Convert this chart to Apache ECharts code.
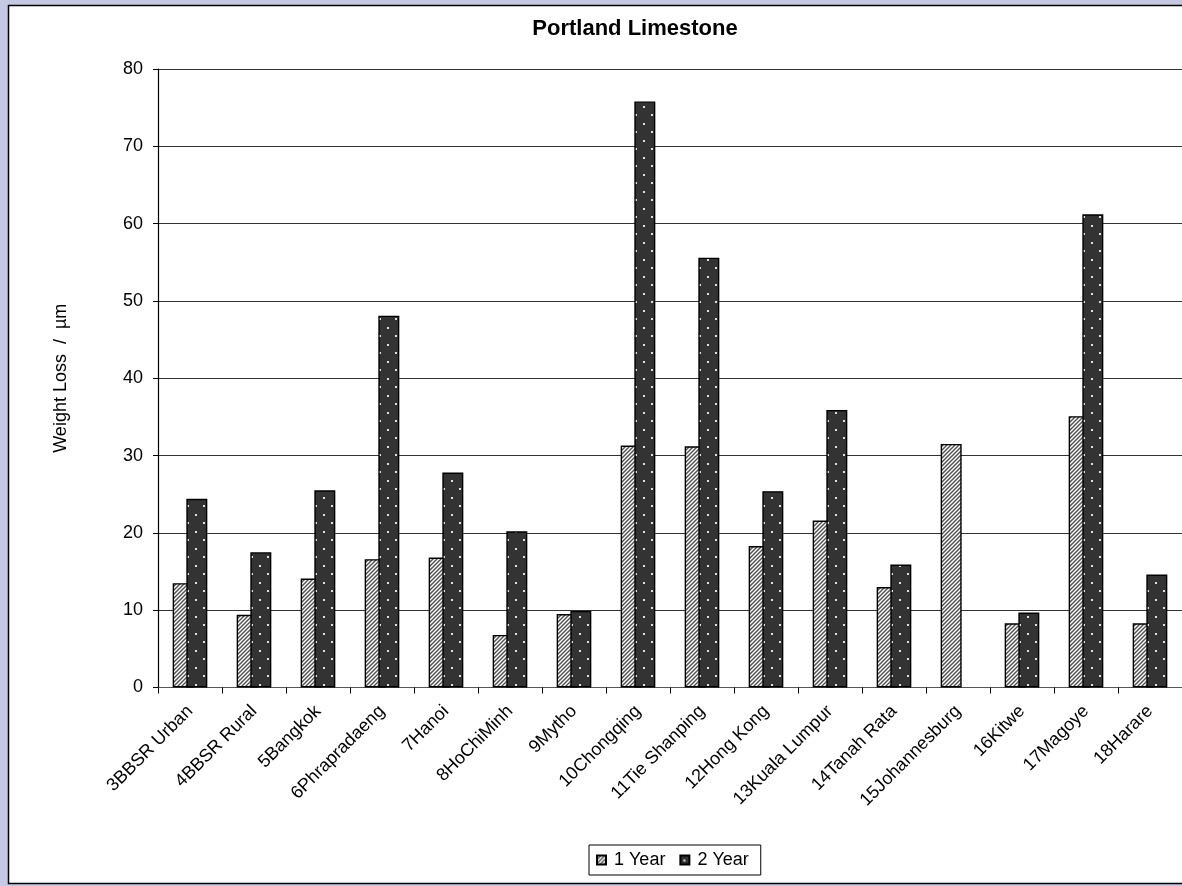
<!DOCTYPE html>
<html>
<head>
<meta charset="utf-8">
<title>Portland Limestone</title>
<script src="https://cdn.jsdelivr.net/npm/echarts@6/dist/echarts.min.js"></script>
<style>
  html, body { margin: 0; padding: 0; background: #c6c9e4; }
  #chart { width: 1182px; height: 886px; }
</style>
</head>
<body>
<div id="chart"></div>
<script>
// Exposure sites
const sites = [
  '3BBSR Urban', '4BBSR Rural', '5Bangkok', '6Phrapradaeng', '7Hanoi',
  '8HoChiMinh', '9Mytho', '10Chongqing', '11Tie Shanping', '12Hong Kong',
  '13Kuala Lumpur', '14Tanah Rata', '15Johannesburg', '16Kitwe', '17Magoye', '18Harare'
];
// Weight loss (µm) after one and two years of exposure
const oneYear = [13.5, 9.4, 14.1, 16.6, 16.8, 6.8, 9.5, 31.3, 31.2, 18.3, 21.6, 13.0, 31.5, 8.3, 35.1, 8.3];
const twoYear = [24.4, 17.5, 25.5, 48.1, 27.8, 20.2, 9.9, 75.8, 55.6, 25.4, 35.9, 15.9, null, 9.7, 61.2, 14.6];
const yTicks = [0, 10, 20, 30, 40, 50, 60, 70, 80];

const FONT = '"Liberation Sans", Arial, sans-serif';

// Diagonal hatch fill for the one-year bars
function hatchPattern() {
  const c = document.createElement('canvas');
  c.width = 4; c.height = 4;
  const g = c.getContext('2d');
  g.fillStyle = '#ffffff';
  g.fillRect(0, 0, 4, 4);
  g.strokeStyle = '#555555';
  g.lineWidth = 1.5;
  g.beginPath();
  g.moveTo(-1, 5); g.lineTo(5, -1);
  g.moveTo(-1, 1); g.lineTo(1, -1);
  g.moveTo(3, 5); g.lineTo(5, 3);
  g.stroke();
  return c;
}

// Dark fill with staggered light dots for the two-year bars
function dotPattern() {
  const c = document.createElement('canvas');
  c.width = 16; c.height = 17;
  const g = c.getContext('2d');
  g.fillStyle = '#333333';
  g.fillRect(0, 0, 16, 17);
  g.fillStyle = '#e0e0e0';
  g.fillRect(3, 4, 2, 2);
  g.fillRect(11, 12, 2, 2);
  return c;
}

const chart = echarts.init(document.getElementById('chart'), null, { renderer: 'canvas' });

const option = {
  backgroundColor: '#c6c9e4',
  animation: false,
  textStyle: { fontFamily: FONT },
  graphic: [{
    type: 'rect',
    z: -10,
    silent: true,
    shape: { x: 8.5, y: 5.5, width: 1200, height: 878 },
    style: { fill: '#ffffff', stroke: '#000000', lineWidth: 1.5 }
  }],
  title: {
    text: 'Portland Limestone',
    left: 630,
    top: 13,
    textAlign: 'center',
    textStyle: { fontFamily: FONT, fontSize: 22, fontWeight: 'bold', color: '#000' }
  },
  legend: {
    data: ['1 Year', '2 Year'],
    left: 589,
    top: 845,
    orient: 'horizontal',
    icon: 'rect',
    itemWidth: 9,
    itemHeight: 9,
    itemGap: 14,
    padding: [6, 12, 6, 7],
    borderColor: '#000',
    borderWidth: 1,
    backgroundColor: '#fff',
    textStyle: { fontFamily: FONT, fontSize: 18, color: '#000', padding: [0, 0, 0, 3] }
  },
  grid: {
    left: 158,
    top: 69,
    width: 1029,
    height: 618.5,
    containLabel: false
  },
  xAxis: {
    type: 'category',
    data: sites,
    axisLine: { show: true, lineStyle: { color: '#555', width: 1.2 } },
    axisTick: { show: true, length: 6, alignWithLabel: false, lineStyle: { color: '#000' } },
    axisLabel: {
      rotate: 45,
      interval: 0,
      margin: 21,
      fontFamily: FONT,
      fontSize: 18,
      color: '#000'
    },
    splitLine: { show: false }
  },
  yAxis: {
    type: 'value',
    min: yTicks[0],
    max: yTicks[yTicks.length - 1],
    interval: yTicks[1] - yTicks[0],
    name: 'Weight Loss  /  µm',
    nameLocation: 'middle',
    nameGap: 88,
    nameRotate: 90,
    nameTextStyle: { fontFamily: FONT, fontSize: 18, color: '#000' },
    axisLine: { show: true, lineStyle: { color: '#000', width: 1.2 } },
    axisTick: { show: true, length: 5, inside: false, lineStyle: { color: '#000' } },
    axisLabel: { fontFamily: FONT, fontSize: 18, color: '#000', margin: 15 },
    splitLine: { show: true, lineStyle: { color: '#333', width: 1 } }
  },
  series: [
    {
      name: '1 Year',
      type: 'bar',
      data: oneYear,
      barWidth: 21,
      barGap: '-35%',
      itemStyle: {
        color: { image: hatchPattern(), repeat: 'repeat' },
        borderColor: '#000',
        borderWidth: 1.4
      }
    },
    {
      name: '2 Year',
      type: 'bar',
      data: twoYear,
      barWidth: 21,
      barGap: '-35%',
      itemStyle: {
        color: { image: dotPattern(), repeat: 'repeat' },
        borderColor: '#000',
        borderWidth: 1.4
      }
    }
  ]
};

chart.setOption(option);
</script>
</body>
</html>
